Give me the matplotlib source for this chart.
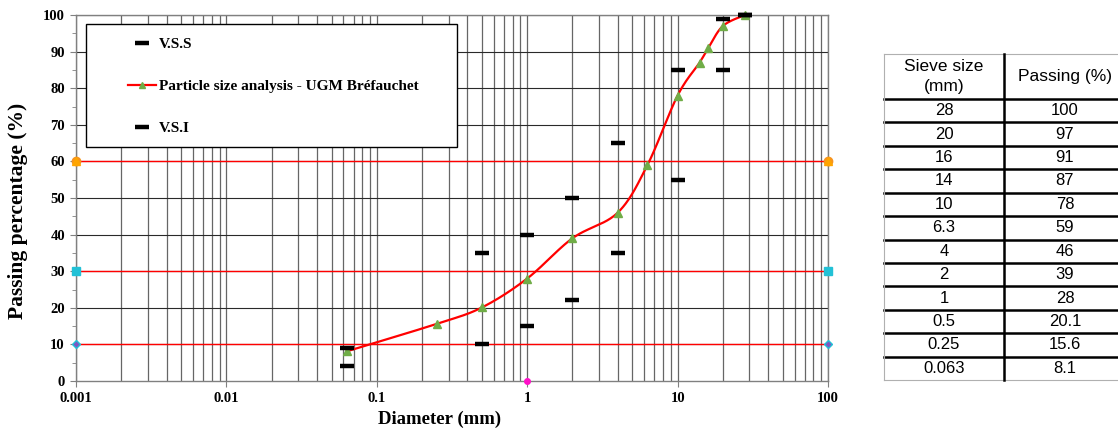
import numpy as np
import matplotlib
matplotlib.use("Agg")
import matplotlib.pyplot as plt
from matplotlib.patches import Rectangle
from matplotlib.ticker import FixedLocator, FixedFormatter, MultipleLocator, NullFormatter

# Sieve analysis results (UGM Bréfauchet)
sieve_mm = [28, 20, 16, 14, 10, 6.3, 4, 2, 1, 0.5, 0.25, 0.063]
passing_pct = [100, 97, 91, 87, 78, 59, 46, 39, 28, 20.1, 15.6, 8.1]
sieve_labels = ["28", "20", "16", "14", "10", "6.3", "4", "2", "1", "0.5", "0.25", "0.063"]
passing_labels = ["100", "97", "91", "87", "78", "59", "46", "39", "28", "20.1", "15.6", "8.1"]

# Specification envelope (upper / lower limits)
limit_sizes = [0.063, 0.5, 1, 2, 4, 10, 20, 28]
vss_pct = [9, 35, 40, 50, 65, 85, 99, 100]
vsi_pct = [4, 10, 15, 22, 35, 55, 85, 100]

# Horizontal reference levels
ref_levels = [10, 30, 60]
ref_span = [0.001, 100]
ref_colors = {60: ("#F7941D", "o"), 30: ("#22C1D6", "s"), 10: ("#7E57C2", "D")}

decade_ticks = [0.001, 0.01, 0.1, 1, 10, 100]
decade_labels = ["0.001", "0.01", "0.1", "1", "10", "100"]

W, H = 1118, 437
SERIF = "Liberation Serif"
SANS = "Liberation Sans"

fig = plt.figure(figsize=(W / 100, H / 100), dpi=100)
ax = fig.add_axes([76 / W, (H - 381) / H, 752 / W, 366 / H])
ax.set_xscale("log")
ax.set_xlim(0.001, 100)
ax.set_ylim(0, 100)

# grid: every 1..9 x 10^k vertically, every 10 % horizontally
minor_x = [m * 10.0 ** k for k in range(-3, 2) for m in range(1, 10)] + [100]
for xv in minor_x:
    ax.axvline(xv, color="#666666", lw=0.9, zorder=0.6)
for yv in range(10, 101, 10):
    ax.axhline(yv, color="#2a2a2a", lw=0.8, zorder=0.6)

ax.xaxis.set_major_locator(FixedLocator(decade_ticks))
ax.xaxis.set_major_formatter(FixedFormatter(decade_labels))
ax.xaxis.set_minor_locator(FixedLocator([]))
ax.xaxis.set_minor_formatter(NullFormatter())
ax.yaxis.set_major_locator(MultipleLocator(10))
ax.yaxis.set_minor_locator(MultipleLocator(5))
ax.tick_params(which="both", direction="out", color="#808080")
ax.tick_params(which="major", length=4, labelsize=10.5, pad=4)
ax.tick_params(which="minor", length=3)
for lab in ax.get_xticklabels() + ax.get_yticklabels():
    lab.set_fontfamily(SERIF)
    lab.set_fontweight("bold")
for sp in ax.spines.values():
    sp.set_color("#808080")
    sp.set_linewidth(1.0)

# reference levels with end markers
for lvl in ref_levels:
    ax.plot(ref_span, [lvl, lvl], color="#FF0000", lw=1.0, zorder=2)
    col, mk = ref_colors[lvl]
    ax.plot(ref_span, [lvl, lvl], ls="none", marker=mk, ms=6 if mk != "D" else 4.5,
            mfc=col, mec="#22C1D6" if mk == "D" else col, clip_on=False, zorder=6)
    if lvl == 60:
        ax.plot(ref_span, [lvl, lvl], ls="none", marker="^", ms=6, mfc="#FFA500",
                mec="#FFA500", clip_on=False, zorder=7)
ax.plot([1], [0], ls="none", marker="o", ms=4, mfc="#FF10C8", mec="#FF10C8",
        clip_on=False, zorder=7)


def smooth_curve(axis, xs, ys, n=40):
    """Bezier smoothing in screen space, like a spreadsheet 'smoothed line'."""
    pts = axis.transData.transform(np.column_stack([xs, ys]))
    p = np.vstack([pts[0], pts, pts[-1]])
    t = np.linspace(0, 1, n)[:, None]
    out = []
    for i in range(1, len(p) - 2):
        p0, p1, p2, p3 = p[i - 1], p[i], p[i + 1], p[i + 2]
        c1 = p1 + (p2 - p0) / 6.0
        c2 = p2 - (p3 - p1) / 6.0
        seg = (1 - t) ** 3 * p1 + 3 * (1 - t) ** 2 * t * c1 + 3 * (1 - t) * t ** 2 * c2 + t ** 3 * p2
        out.append(seg if i == 1 else seg[1:])
    return axis.transData.inverted().transform(np.vstack(out))


order = np.argsort(sieve_mm)
xs = np.array(sieve_mm)[order]
ys = np.array(passing_pct)[order]
curve = smooth_curve(ax, xs, ys)
ax.plot(curve[:, 0], curve[:, 1], color="#FF0000", lw=1.6, zorder=4, clip_on=False)
ax.plot(xs, ys, ls="none", marker="^", ms=6, mfc="#70AD47", mec="#70AD47",
        zorder=5, clip_on=False)

h_vss, = ax.plot(limit_sizes, vss_pct, ls="none", marker="_", ms=10, mew=3.2,
                 color="black", zorder=6, clip_on=False, label="V.S.S")
h_vsi, = ax.plot(limit_sizes, vsi_pct, ls="none", marker="_", ms=10, mew=3.2,
                 color="black", zorder=6, clip_on=False, label="V.S.I")
h_psa, = ax.plot([], [], color="#FF0000", lw=1.6, marker="^", ms=5,
                 mfc="#70AD47", mec="#70AD47",
                 label="Particle size analysis - UGM Bréfauchet")

# legend box
ax.add_patch(Rectangle(((86 - 76) / 752, (381 - 147) / 366), (457 - 86) / 752, (147 - 24) / 366,
                       transform=ax.transAxes, facecolor="white", edgecolor="black",
                       lw=1.0, zorder=8))
leg = ax.legend([h_vss, h_psa, h_vsi], [h_vss.get_label(), h_psa.get_label(), h_vsi.get_label()],
                loc="upper left", bbox_to_anchor=((128 - 76) / 752, (381 - 37.5) / 366),
                borderpad=0, borderaxespad=0, labelspacing=1.85, handlelength=1.8,
                handletextpad=0.2, numpoints=1, frameon=False,
                prop={"family": SERIF, "weight": "bold", "size": 11})
leg.set_zorder(9)

ax.set_xlabel("Diameter (mm)", fontfamily=SERIF, fontweight="bold", fontsize=13.5)
ax.set_ylabel("Passing percentage (%)", fontfamily=SERIF, fontweight="bold", fontsize=15.5)
ax.xaxis.set_label_coords((440 - 76) / 752, (381 - 411) / 366)
ax.yaxis.set_label_coords((28 - 76) / 752, (381 - 211) / 366)

# results table
tax = fig.add_axes([884 / W, (H - 380) / H, 242 / W, 326 / H])
tax.set_axis_off()
n = len(sieve_labels)
hdr = 45 / (281 / n)
tax.set_xlim(0, 1)
tax.set_ylim(0, n + hdr)
split = 120 / 242
tfont = {"family": SANS, "size": 12}
tax.text(split / 2, n + hdr / 2, "Sieve size\n(mm)", ha="center", va="center",
         linespacing=1.45, family=SANS, size=12.5)
tax.text((split + 1) / 2, n + hdr / 2, "Passing (%)", ha="center", va="center",
         family=SANS, size=12.5)
for i, (a, b) in enumerate(zip(sieve_labels, passing_labels)):
    yc = n - i - 0.5
    tax.text(split / 2, yc, a, ha="center", va="center", **tfont)
    tax.text((split + 1) / 2, yc, b, ha="center", va="center", **tfont)
for k in range(1, n + 1):
    tax.plot([0, 1], [k, k], color="black", lw=1.8, clip_on=False)
tax.plot([0, 1], [n + hdr, n + hdr], color="#b0b0b0", lw=0.8, clip_on=False)
tax.plot([0, 1], [0, 0], color="#b0b0b0", lw=0.8, clip_on=False)
tax.plot([0, 0], [0, n + hdr], color="#b0b0b0", lw=0.8, clip_on=False)
tax.plot([split, split], [0, n + hdr], color="black", lw=1.8, clip_on=False)

fig.savefig("out.png", dpi=100)
